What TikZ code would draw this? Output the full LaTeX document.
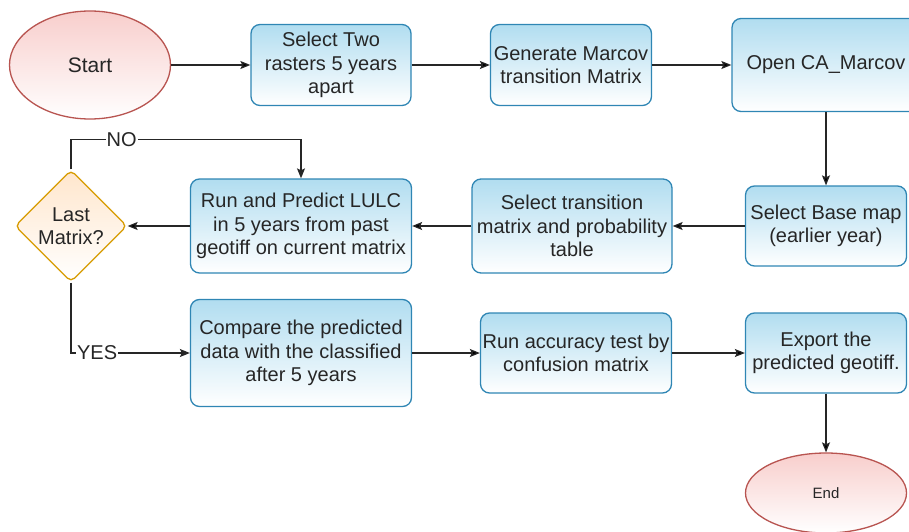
\documentclass[tikz,border=0pt]{standalone}
\usepackage{fontspec}
\setmainfont{Liberation Sans}
\usetikzlibrary{positioning,shapes.geometric,arrows.meta}

\definecolor{procfill}{HTML}{B1DDF0}
\definecolor{procline}{HTML}{2F86B4}
\definecolor{termfill}{HTML}{F8CECC}
\definecolor{termline}{HTML}{B85450}
\definecolor{decfill}{HTML}{FFE6CC}
\definecolor{decline}{HTML}{D79B00}
\definecolor{inkgray}{HTML}{262626}

\begin{document}
\begin{tikzpicture}[x=1pt,y=1pt,on grid,
  every node/.style={text=inkgray,font=\fontsize{20pt}{23.5pt}\selectfont},
  proc/.style={rectangle,rounded corners=9pt,draw=procline,line width=1.3pt,
    top color=procfill,bottom color=white,align=center,inner xsep=1pt},
  term/.style={ellipse,draw=termline,line width=1.3pt,top color=termfill,
    bottom color=white,minimum width=161pt,inner sep=0pt},
  decision/.style={diamond,draw=decline,line width=1.3pt,top color=decfill,
    bottom color=white,rounded corners=5pt,minimum width=112pt,
    minimum height=112pt,inner sep=0pt,align=center},
  flow/.style={-{Stealth[length=10pt,width=8pt,inset=2pt]},line width=1.2pt,draw=inkgray},
  lbl/.style={fill=white,inner sep=1pt}]
  \clip (0,0) rectangle (909,-532);
  \node[term,minimum height=108pt,font=\fontsize{21pt}{24pt}\selectfont] (start) at (90,-65) {Start};
  \node[proc,minimum width=160pt,minimum height=81pt] (sel2) [right = 241pt of start] {Select Two\\rasters 5 years\\apart};
  \node[proc,minimum width=161pt,minimum height=81pt] (genmat) [right = 240pt of sel2] {Generate Marcov\\transition Matrix};
  \node[proc,minimum width=188pt,minimum height=93pt] (openca) [right = 255pt of genmat] {Open CA\_Marcov};
  \node[proc,minimum width=161pt,minimum height=80pt] (basemap) [below = 161pt of openca] {Select Base map\\(earlier year)};
  \node[proc,minimum width=200pt,minimum height=94pt] (seltab) [left = 254pt of basemap] {Select transition\\matrix and probability\\table};
  \node[proc,minimum width=221pt,minimum height=94pt] (runpred) [left = 271pt of seltab] {Run and Predict LULC\\in 5 years from past\\geotiff on current matrix};
  \node[decision] (lastmat) [left = 230pt of runpred] {Last\\Matrix?};
  \node[proc,minimum width=221pt,minimum height=107pt] (compare) [below = 127pt of runpred] {Compare the predicted\\data with the classified\\after 5 years};
  \node[proc,minimum width=191pt,minimum height=80pt] (acctest) [right = 275pt of compare] {Run accuracy test by\\confusion matrix};
  \node[proc,minimum width=161pt,minimum height=80pt] (export) [right = 250pt of acctest] {Export the\\predicted geotiff.};
  \node[term,minimum height=80pt,font=\fontsize{15pt}{18pt}\selectfont] (finish) [below = 140pt of export] {End};
  \path[flow]
  (start) edge (sel2)
  (sel2) edge (genmat)
  (genmat) edge (openca)
  (openca) edge (basemap)
  (basemap) edge (seltab)
  (seltab) edge (runpred)
  (runpred) edge (lastmat)
  (compare) edge (acctest)
  (acctest) edge (export)
  (export) edge (finish);
  \draw[flow] (lastmat.north) -- ++(0,30) -- node[lbl,pos=0.22] {NO} ++(230,0) -- (runpred.north);
  \draw[flow] (lastmat.south) |- node[lbl,pos=0.61] {YES} (compare.west);
\end{tikzpicture}
\end{document}
